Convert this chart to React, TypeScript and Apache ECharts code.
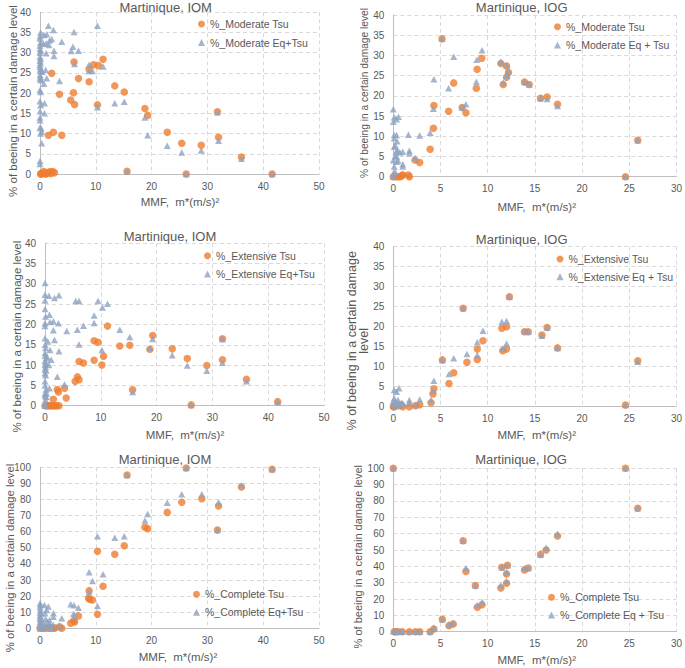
import React, { useEffect, useRef } from 'react';
import * as echarts from 'echarts';

// ---------- DATA ----------
const moderateIOM_Tsu: number[][] = [
  [6.1, 27.7], [2.1, 24.9], [8.8, 25.9], [9.6, 27.0], [10.5, 26.8], [11.3, 28.4], [6.9, 23.6], [8.8, 22.8],
  [13.4, 21.8], [15.1, 20.3], [3.5, 19.7], [6.0, 20.1], [5.5, 18.3], [6.2, 17.2], [10.3, 17.1], [18.8, 16.2],
  [19.3, 14.5], [31.8, 15.4], [1.5, 9.6], [2.4, 10.3], [3.9, 9.6], [22.8, 10.3], [25.4, 7.6], [28.9, 7.1],
  [32.0, 9.1], [36.1, 4.2], [15.6, 0.7], [26.2, 0], [41.6, 0], [0.1, 0], [0.3, 0], [0.5, 0.2], [0.7, 0.6],
  [0.9, 0.2], [1.2, 0.1], [1.5, 0.3], [1.8, 0.6], [2.0, 0.1], [2.3, 0.6], [2.6, 0.3], [1.0, 0], [0.2, 0.1],
];
const moderateIOM_Eq: number[][] = [
  [1.5, 36.7], [10.3, 36.7], [2.4, 35.6], [6.1, 35.1], [0.1, 35.0], [0.0, 34.1], [0.7, 34.4], [1.2, 34.6],
  [3.9, 32.7], [2.1, 33.4], [1.7, 33.0], [0.6, 32.3], [1.1, 32.3], [1.6, 31.9], [5.6, 30.4], [5.9, 31.5],
  [6.9, 30.5], [2.5, 30.5], [2.5, 29.2], [1.1, 29.9], [6.2, 27.2], [8.8, 27.0], [8.8, 25.5], [9.4, 25.5],
  [11.3, 26.6], [1.0, 25.7], [1.2, 23.7], [0.4, 25.3], [3.5, 23.0], [0.7, 22.3], [13.4, 17.5], [15.1, 17.9],
  [10.3, 16.5], [0.8, 17.5], [0.8, 15.0], [18.8, 14.0], [19.3, 9.6], [22.8, 7.0], [25.4, 5.3], [28.9, 5.8],
  [32.0, 8.2], [31.8, 15.3], [36.1, 3.8], [15.6, 0.7], [26.2, 0], [41.6, 0], [0.3, 7.6], [0.2, 11.3],
  [0.3, 10.5], [0, 33.5], [0.1, 32.5], [0, 31.8], [0, 31], [0.1, 30.5], [0, 30], [0, 29], [0.1, 28.5],
  [0, 28], [0.1, 27.5], [0, 27], [0, 26.5], [0.1, 26], [0, 25.5], [0, 24.5], [0.1, 24], [0, 23.5],
  [0.2, 23.2], [0, 20.8], [0.1, 20.3], [0, 18], [0.1, 17], [0, 15.5], [0, 14], [0, 13.3], [0, 11.5],
  [0.1, 10], [0, 3.2], [0, 2.5],
];
const moderateIOG_Tsu: number[][] = [
  [5.16, 34.1], [9.37, 29.3], [8.88, 26.6], [11.4, 28.0], [12.0, 27.4], [12.2, 25.8], [12.0, 24.6], [6.4, 23.2],
  [11.65, 22.8], [13.9, 23.4], [14.4, 22.8], [8.8, 21.9], [15.6, 19.4], [16.3, 19.7], [17.4, 17.9], [4.3, 17.6],
  [5.86, 16.2], [7.3, 17.1], [7.7, 15.8], [4.25, 12.0], [3.9, 6.8], [2.3, 4.1], [2.8, 3.5], [25.9, 9.0],
  [24.6, 0], [0.2, 0], [0.5, 0], [0.9, 0.2], [1.0, 0.5], [1.6, 0.4], [1.7, 0], [0, 0], [0.7, 0],
];
const moderateIOG_Eq: number[][] = [
  [5.16, 34.1], [9.4, 31.3], [11.4, 28.5], [8.85, 28.9], [6.4, 29.7], [12.0, 27.6], [12.2, 26.1], [12.0, 25.0],
  [11.65, 23.3], [8.8, 23.5], [13.9, 23.4], [14.4, 22.8], [4.3, 24.1], [5.86, 21.9], [7.7, 17.9], [7.3, 17.1],
  [4.25, 16.8], [15.6, 19.4], [16.3, 19.2], [17.4, 17.5], [3.9, 10.9], [1.6, 10.4], [2.8, 10.2], [2.3, 4.7],
  [25.9, 9.0], [24.6, 0], [1.7, 6.4], [1.7, 5.8], [1.0, 6.2], [1.0, 3.1], [1.0, 2.5], [0, 16.7], [0.1, 14.7],
  [0.35, 14.2], [0.55, 14.8], [0.1, 10.3], [0.35, 10.3], [0.4, 8.8], [0.1, 7.4], [0.3, 6.2], [0.35, 5.0],
  [0.35, 3.7], [0.1, 2.5], [0.2, 1.2], [0, 0.8], [0.2, 5.1], [0.45, 6.6], [0, 4.1], [0, 13.6], [0.7, 6.0],
  [0.5, 4.0], [0, 0], [0.1, 9.5], [0.2, 7.8],
];
const extensiveIOM_Tsu: number[][] = [
  [11.2, 19.6], [8.8, 16.0], [9.5, 15.6], [19.3, 17.3], [13.4, 14.7], [15.2, 14.9], [18.8, 13.9], [22.8, 14.0],
  [25.5, 11.6], [31.8, 16.5], [31.8, 11.3], [29.0, 9.9], [36.1, 6.5], [41.7, 1.0], [26.2, 0.2], [15.7, 3.9],
  [6.1, 10.9], [6.9, 10.5], [8.8, 11.2], [10.5, 12.2], [10.2, 10.0], [5.8, 7.1], [5.4, 6.0], [6.1, 6.4],
  [3.5, 4.3], [2.2, 4.0], [2.4, 3.4], [3.8, 1.9], [1.5, 1.6], [0, 0], [0.3, 0], [0.6, 0], [0.9, 0], [1.2, 0],
  [1.5, 0], [1.8, 0], [2.1, 0], [2.5, 0],
];
const extensiveIOM_Eq: number[][] = [
  [0, 30.2], [0, 27.3], [0.7, 27.1], [1.7, 26.5], [2.5, 27.2], [0, 25.9], [5.5, 25.8], [6.1, 25.8], [9.5, 25.8],
  [10.3, 24.2], [11.2, 25.1], [0, 23.8], [0.8, 22.4], [0.1, 22.0], [8.8, 22.2], [8.8, 20.4], [0.9, 20.6],
  [1.5, 20.8], [2.4, 20.3], [0, 20.3], [6.9, 19.7], [5.8, 18.7], [3.9, 18.4], [1.5, 18.6], [0, 19.6],
  [13.4, 18.7], [15.2, 16.9], [1.7, 16.2], [0, 16.6], [6.1, 15.1], [19.3, 16.4], [18.8, 14.2], [22.8, 12.4],
  [25.5, 9.9], [29.0, 8.6], [31.8, 16.4], [31.8, 10.6], [36.1, 6.0], [41.7, 1.0], [26.2, 0.2], [15.7, 3.4],
  [10.2, 13.7], [0.9, 13.7], [1.1, 11.3], [0.7, 10.0], [2.5, 13.4], [2.2, 7.1], [0.8, 4.3], [3.5, 5.3],
  [0.3, 3.0], [0.2, 2.2], [0, 15], [0.1, 14.2], [0, 13], [0, 12.3], [0.2, 11.7], [0, 11], [0.1, 10.5],
  [0, 10], [0.1, 9.5], [0, 9], [0.2, 8.7], [0, 8], [0.1, 7.5], [0, 6], [0, 5], [0.2, 4], [0, 3], [0, 2.5],
  [0.1, 1.5], [0, 0.5], [0, 0], [0.4, 12.0], [0.5, 15.8],
];
const extensiveIOG_Tsu: number[][] = [
  [12.3, 27.5], [7.4, 24.6], [11.5, 19.6], [12.0, 20.0], [13.9, 18.75], [14.3, 18.75], [15.75, 17.9],
  [16.3, 19.8], [17.4, 14.7], [9.5, 16.5], [8.9, 14.4], [11.6, 14.0], [12.0, 14.4], [8.9, 11.8], [7.8, 11.1],
  [5.2, 11.7], [6.4, 8.5], [5.9, 5.8], [4.2, 3.2], [4.3, 4.5], [4.0, 1.0], [2.8, 0.5], [2.35, 0.25], [1.7, 0],
  [25.9, 11.5], [24.6, 0.4], [0.3, 0.5], [0.6, 0.3], [0.8, 0.5], [1.0, 0], [0.1, 0], [0, 0],
];
const extensiveIOG_Eq: number[][] = [
  [12.3, 27.5], [7.4, 24.6], [11.5, 21.25], [12.0, 21.4], [13.9, 18.9], [14.3, 18.75], [15.75, 17.75],
  [16.3, 19.8], [17.4, 14.7], [9.5, 19.0], [8.9, 16.1], [11.6, 14.6], [12.0, 15.8], [8.9, 12.9], [7.8, 13.2],
  [6.4, 12.1], [5.9, 8.2], [5.2, 11.7], [4.3, 6.5], [4.2, 4.0], [4.0, 1.7], [2.8, 1.8], [2.35, 0.4],
  [1.7, 1.7], [1.7, 1.0], [25.9, 11.25], [24.6, 0.4], [0.1, 4.2], [0.35, 3.75], [0.6, 4.6], [0.1, 2.1],
  [0.2, 1.25], [0.5, 1.7], [0.9, 1.0], [1.05, 0.7], [0, 0.4], [0.5, 0.4], [0.35, 1.0], [0.9, 0.6],
  [0.2, 0.1], [0, 1.5],
];
const completeIOM_Tsu: number[][] = [
  [15.6, 95.2], [26.2, 99.6], [41.6, 98.8], [36.1, 87.8], [29.0, 80.5], [32.0, 76.0], [31.8, 61.0],
  [22.8, 72.0], [25.4, 78.3], [18.8, 62.7], [19.3, 61.9], [15.1, 51.3], [13.4, 46.0], [10.3, 47.8],
  [11.3, 26.1], [8.8, 23.4], [9.4, 17.6], [8.7, 18.6], [8.9, 18.0], [10.3, 8.7], [6.9, 7.7], [6.2, 3.9],
  [5.5, 3.1], [6.0, 4.6], [3.5, 1.0], [3.9, 0], [0, 0], [0.5, 0], [1.0, 0], [1.5, 0.3], [2.0, 0.5],
  [2.4, 0], [1.8, 0], [2.7, 0.2],
];
const completeIOM_Eq: number[][] = [
  [15.6, 95.2], [26.2, 99.6], [41.6, 98.8], [36.1, 88.8], [29.0, 83.2], [32.0, 78.3], [31.8, 61.0],
  [22.8, 78.0], [25.4, 83.2], [18.8, 66.9], [19.3, 71.0], [15.1, 57.1], [13.4, 56.3], [10.3, 57.1],
  [11.3, 33.5], [8.8, 34.8], [9.4, 29.4], [8.8, 22.6], [10.3, 13.9], [6.9, 12.8], [6.0, 9.1], [6.2, 7.9],
  [5.5, 14.9], [6.1, 14.3], [3.5, 1.4], [3.9, 6.2], [2.4, 9.3], [2.4, 7.2], [1.5, 13.5], [1.2, 11.4],
  [0.9, 9.3], [0.8, 14.5], [1.7, 5.2], [1.0, 6.0], [1.3, 4.0], [0.6, 3.5], [1.8, 2.5], [2.4, 2.0],
  [0, 15.5], [0.1, 14.5], [0, 13], [0.1, 11.5], [0, 10], [0.2, 9], [0, 8], [0.1, 7], [0, 6], [0.2, 5],
  [0, 4], [0.1, 3], [0, 2], [0.2, 1], [0, 0], [0.5, 0.5], [1.0, 1.0], [1.5, 0.5], [2.0, 0],
];
const completeIOG_Tsu: number[][] = [
  [0, 100], [24.6, 100], [25.9, 75.5], [17.4, 58.6], [16.2, 50.0], [15.6, 47.3], [7.4, 55.7], [7.7, 36.9],
  [12.1, 40.6], [11.5, 39.4], [13.9, 37.8], [14.3, 39.0], [12.0, 35.3], [12.0, 29.6], [11.4, 26.7],
  [8.7, 28.2], [8.9, 14.9], [9.4, 16.5], [5.2, 7.6], [5.9, 3.7], [6.35, 4.7], [4.3, 1.6], [3.9, 0],
  [0.25, 0], [0.5, 0], [0.95, 0], [1.7, 0], [2.35, 0], [2.8, 0], [0.1, 0],
];
const completeIOG_Eq: number[][] = [
  [0, 100], [24.6, 100], [25.9, 75.5], [17.4, 60.0], [16.2, 51.4], [15.6, 47.3], [7.4, 55.7], [7.7, 39.0],
  [12.1, 40.6], [11.5, 39.4], [13.9, 39.0], [14.3, 39.0], [12.0, 36.5], [12.0, 31.0], [11.4, 28.4],
  [8.7, 28.2], [8.9, 16.3], [9.4, 18.2], [5.2, 7.6], [5.9, 4.5], [6.35, 5.5], [4.3, 2.4], [3.9, 0],
  [0, 0.3], [0.25, 0.3], [0.5, 0.5], [0.7, 0.3], [0.95, 0], [1.7, 0], [2.35, 0], [2.8, 0],
];

const panelTitles = ['Martinique, IOM', 'Martinique, IOG', 'Martinique, IOM', 'Martinique, IOG', 'Martinique, IOM', 'Martinique, IOG'];
const tsuNames = ['%_Moderate Tsu', '%_Moderate Tsu', '%_Extensive Tsu', '%_Extensive Tsu', '%_Complete Tsu', '%_Complete Tsu'];
const eqNames = ['%_Moderate Eq+Tsu', '%_Moderate Eq + Tsu', '%_Extensive Eq+Tsu', '%_Extensive Eq + Tsu', '%_Complete Eq+Tsu', '%_Complete Eq + Tsu'];
const xAxisTitle = 'MMF,  m*(m/s)²';
const yAxisTitle = '% of beeing in a certain damage level';
const yAxisTitleSplit = '% of beeing in a certain damage\nlevel';
const xMaxes = [50, 30, 50, 30, 50, 30];
const xIntervals = [10, 5, 10, 5, 10, 5];
const yMaxes = [40, 40, 40, 40, 100, 100];
const yIntervals = [5, 5, 5, 5, 10, 10];

const tsuData = [moderateIOM_Tsu, moderateIOG_Tsu, extensiveIOM_Tsu, extensiveIOG_Tsu, completeIOM_Tsu, completeIOG_Tsu];
const eqData = [moderateIOM_Eq, moderateIOG_Eq, extensiveIOM_Eq, extensiveIOG_Eq, completeIOM_Eq, completeIOG_Eq];

// ---------- LAYOUT ----------
const FONT = "'Liberation Sans', Arial, sans-serif";
const TEXT = '#595959';
const ORANGE = '#ED7D31';
const BLUE = '#8DA3C1';

const layout = [
  { grid: { left: 40, top: 12.3, width: 279, height: 161.7 }, title: [165.7, 7.5], xName: [180, 201.7], yName: [12.7, 101], yFont: 11.5, legend: [198, 17.5, 5.5] },
  { grid: { left: 393.3, top: 15, width: 285, height: 161.7 }, title: [521.7, 7.8], xName: [536.7, 206.7], yName: [364.3, 93], yFont: 10.2, legend: [554, 20.2, 5.3] },
  { grid: { left: 45, top: 243.3, width: 279, height: 162.4 }, title: [170, 236.5], xName: [185, 435], yName: [16.7, 336.7], yFont: 11.5, legend: [204, 249.2, 5.3] },
  { grid: { left: 393.3, top: 246.7, width: 285, height: 160 }, title: [521.7, 239.5], xName: [536.7, 435], yName: [357.5, 340.8], yFont: 12.5, legend: [556.5, 252.5, 4.7] },
  { grid: { left: 40, top: 467.3, width: 279, height: 161 }, title: [165, 459], xName: [178, 656.7], yName: [10, 558], yFont: 11.3, legend: [193, 587.8, 5] },
  { grid: { left: 393.3, top: 468.3, width: 285, height: 163.4 }, title: [521, 459], xName: [536.7, 660], yName: [357.7, 556.7], yFont: 11, legend: [548, 590.8, 4.7] },
];

function buildOption() {
  const grids: any[] = [];
  const xAxes: any[] = [];
  const yAxes: any[] = [];
  const series: any[] = [];
  const legends: any[] = [];
  const graphics: any[] = [];

  layout.forEach((L, i) => {
    grids.push({ ...L.grid, containLabel: false });
    xAxes.push({
      type: 'value', gridIndex: i, min: 0, max: xMaxes[i], interval: xIntervals[i],
      axisLine: { show: true, lineStyle: { color: '#BFBFBF', width: 1 } },
      axisTick: { show: false },
      splitLine: { show: true, lineStyle: { color: '#D9D9D9', type: [4, 3], width: 1 } },
      axisLabel: { color: TEXT, fontSize: 10, fontFamily: FONT, margin: 7 },
    });
    yAxes.push({
      type: 'value', gridIndex: i, min: 0, max: yMaxes[i], interval: yIntervals[i],
      axisLine: { show: true, lineStyle: { color: '#BFBFBF', width: 1 } },
      axisTick: { show: false },
      splitLine: { show: true, lineStyle: { color: '#D9D9D9', type: [4, 3], width: 1 } },
      axisLabel: { color: TEXT, fontSize: 10, fontFamily: FONT, margin: 9 },
    });
    series.push({
      type: 'scatter', name: tsuNames[i], xAxisIndex: i, yAxisIndex: i, data: tsuData[i],
      symbol: 'circle', symbolSize: 7.5, itemStyle: { color: ORANGE }, z: 2,
    });
    series.push({
      type: 'scatter', name: eqNames[i], xAxisIndex: i, yAxisIndex: i, data: eqData[i],
      symbol: 'triangle', symbolSize: [7, 6.5], itemStyle: { color: BLUE }, z: 3,
    });
    legends.push({
      left: L.legend[0], top: L.legend[1], orient: 'vertical', itemGap: L.legend[2],
      itemWidth: 7, itemHeight: 7, padding: 0, selectedMode: false,
      data: [{ name: tsuNames[i], icon: 'circle' }, { name: eqNames[i], icon: 'triangle' }],
      textStyle: { color: TEXT, fontSize: 10.5, fontFamily: FONT, lineHeight: 13 },
    });
    graphics.push({
      type: 'text', x: L.title[0], y: L.title[1], silent: true,
      style: { text: panelTitles[i], fill: TEXT, fontSize: 13, fontFamily: FONT, textAlign: 'center', textVerticalAlign: 'middle' },
    });
    graphics.push({
      type: 'text', x: L.xName[0], y: L.xName[1], silent: true,
      style: { text: xAxisTitle, fill: TEXT, fontSize: 11.5, fontFamily: FONT, textAlign: 'center', textVerticalAlign: 'middle' },
    });
    graphics.push({
      type: 'text', x: L.yName[0], y: L.yName[1], rotation: Math.PI / 2, silent: true,
      style: {
        text: i === 3 ? yAxisTitleSplit : yAxisTitle, fill: TEXT, fontSize: L.yFont,
        lineHeight: 12, fontFamily: FONT, textAlign: 'center', textVerticalAlign: 'middle',
      },
    });
  });

  return {
    animation: false,
    backgroundColor: '#ffffff',
    textStyle: { fontFamily: FONT },
    grid: grids,
    xAxis: xAxes,
    yAxis: yAxes,
    legend: legends,
    series,
    graphic: graphics,
  };
}

export default function App() {
  const ref = useRef<HTMLDivElement>(null);
  useEffect(() => {
    if (!ref.current) return;
    const chart = echarts.init(ref.current, null, { renderer: 'svg' });
    chart.setOption(buildOption() as any);
    return () => chart.dispose();
  }, []);
  return (
    <div
      ref={ref}
      style={{ position: 'fixed', left: 0, top: 0, width: 685, height: 668, background: '#fff' }}
    />
  );
}
